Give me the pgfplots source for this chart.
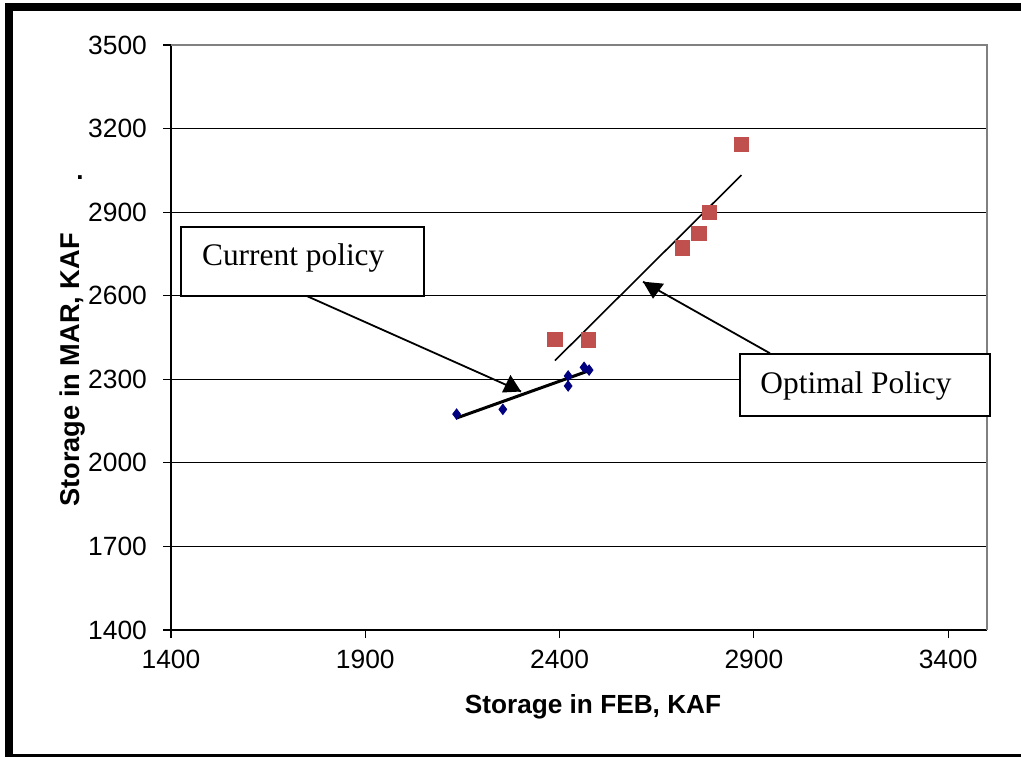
\documentclass[border=0pt]{standalone}
\usepackage{pgfplots}
\pgfplotsset{compat=1.18}
\usepackage{fontspec}
\setmainfont{Liberation Sans}
\newfontfamily\tnr{Liberation Serif}
\usetikzlibrary{arrows.meta}
\definecolor{navy}{HTML}{000080}
\definecolor{xlred}{HTML}{C0504D}
\begin{document}
\begin{tikzpicture}
\useasboundingbox (0,0) rectangle (510.5pt,378pt);
\begin{axis}[
  at={(85.5pt,63pt)}, anchor=south west,
  scale only axis, width=408pt, height=292.5pt,
  xmin=1400, xmax=3500, ymin=1400, ymax=3500,
  xtick={1400,1900,2400,2900,3400},
  ytick={1400,1700,2000,2300,2600,2900,3200,3500},
  axis x line*=bottom, axis y line*=left,
  axis line style={black, line width=0.6pt},
  tick align=outside, major tick length=4pt,
  tick style={black, line width=0.6pt},
  ymajorgrids, grid style={black, line width=0.5pt},
  ticklabel style={font=\fontsize{13.2}{15}\selectfont},
  xticklabel style={yshift=-2.5pt},
  yticklabel style={xshift=-4.5pt},
  /pgf/number format/assume math mode=true,
  /pgf/number format/1000 sep={},
  clip=false,
]
\addplot[only marks, mark=diamond*, mark size=2.6pt, mark options={fill=navy, draw=navy}]
  coordinates {(2135,2175) (2254,2192) (2422,2312) (2422,2276) (2463,2343) (2476,2333)};
\addplot[only marks, mark=square*, mark size=3.6pt, mark options={fill=xlred, draw=xlred}]
  coordinates {(2388,2444) (2474,2441) (2716,2772) (2759,2824) (2785,2900) (2868,3143)};
\addplot[black, line width=1.5pt, no marks] coordinates {(2133,2160) (2476,2331)};
\addplot[black, line width=0.8pt, no marks] coordinates {(2388,2367) (2868,3033)};
\draw[gray, line width=0.8pt] (rel axis cs:0,1) -- (rel axis cs:1,1) -- (rel axis cs:1,0);
\end{axis}
% annotations
\draw[black, line width=0.9pt] (153.35pt,230pt) -- (260.5pt,182.25pt);
\fill[black] (260.5pt,182.25pt) -- ++(-9.5pt,-0.5pt) -- ++(4.2pt,8.8pt) -- cycle;
\draw[black, line width=0.9pt] (385pt,201.35pt) -- (321.5pt,237.15pt);
\fill[black] (321.5pt,237.15pt) -- ++(10.5pt,-1pt) -- ++(-5.5pt,-7.5pt) -- cycle;
\draw[black, line width=0.9pt, fill=white] (90.5pt,264.5pt) rectangle (212pt,230pt);
\node[anchor=base west, inner sep=0pt, font=\tnr\fontsize{15.7}{18}\selectfont] at (100.85pt,245.15pt) {Current policy};
\draw[black, line width=0.9pt, fill=white] (370pt,201pt) rectangle (495pt,170pt);
\node[anchor=base west, inner sep=0pt, font=\tnr\fontsize{15.7}{18}\selectfont] at (380pt,181.5pt) {Optimal Policy};
% axis titles
\node[font=\bfseries\fontsize{13.1}{15}\selectfont] at (296.5pt,24.5pt) {Storage in FEB, KAF};
\node[rotate=90, font=\bfseries\fontsize{13.6}{15}\selectfont] at (36.5pt,193pt) {Storage in MAR, KAF};
\node[font=\bfseries\fontsize{13}{15}\selectfont, inner sep=0pt] at (40pt,289pt) {.};
% outer frame
\draw[black, line width=4pt] (4.5pt,-1pt) rectangle (530pt,374.5pt);
\end{tikzpicture}
\end{document}
